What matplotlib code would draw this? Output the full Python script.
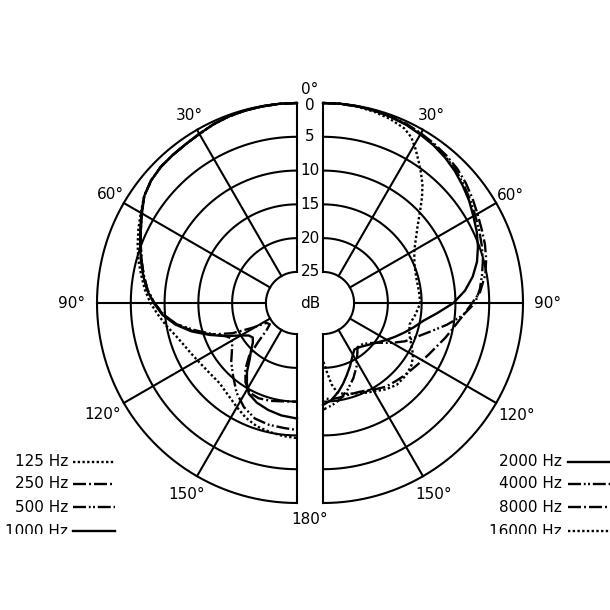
import numpy as np
import matplotlib.pyplot as plt
from matplotlib.patches import Rectangle

# polar response, angle in degrees from the front, level in dB below 0
# left half: low frequencies
ang_125 = [0, 5, 10, 15, 20, 25, 30, 35, 40, 45, 50, 55, 60, 65, 70, 75, 80, 85, 90, 95,
           100, 105, 110, 115, 120, 128, 136, 143, 150, 156, 162, 168, 174, 180]
db_125 = [0, 0, 0.05, 0.1, 0.2, 0.4, 0.7, 0.9, 1.0, 1.1, 1.4, 2.0, 2.9, 3.7, 4.5, 5.3, 6.2, 7.0, 7.9, 9.0,
          10.0, 11.0, 11.7, 12.2, 12.6, 13.0, 13.1, 12.6, 11.8, 11.0, 10.4, 10.1, 9.8, 9.6]

ang_250 = [0, 5, 10, 15, 20, 25, 30, 35, 40, 45, 50, 55, 60, 65, 70, 75, 80, 85, 90, 95,
           100, 105, 110, 115, 119, 123, 128, 132, 135, 138, 142, 147, 152, 158, 165, 172, 180]
db_250 = [0, 0, 0.05, 0.1, 0.2, 0.4, 0.7, 0.9, 1.0, 1.1, 1.4, 2.0, 3.1, 4.1, 5.0, 5.8, 6.6, 7.4, 8.5, 9.8,
          11.5, 13.6, 16.0, 19.0, 22.0, 24.2, 24.5, 23.5, 21.5, 19.0, 17.2, 15.6, 14.6, 14.4, 14.6, 14.9, 15.0]

ang_500 = [0, 5, 10, 15, 20, 25, 30, 35, 40, 45, 50, 55, 60, 65, 70, 75, 80, 85, 90, 95,
           100, 105, 110, 115, 118, 122, 126, 132, 139, 146, 153, 160, 167, 174, 180]
db_500 = [0, 0, 0.05, 0.1, 0.2, 0.4, 0.7, 0.9, 1.0, 1.1, 1.4, 2.0, 3.1, 4.1, 5.0, 5.8, 6.6, 7.4, 8.5, 9.7,
          11.5, 14.0, 16.2, 18.0, 18.5, 18.3, 17.7, 16.5, 15.2, 13.6, 12.3, 11.4, 11.1, 11.0, 10.8]

ang_1000 = [0, 5, 10, 15, 20, 25, 30, 35, 40, 45, 50, 55, 60, 65, 70, 75, 80, 85, 90, 95,
            100, 105, 110, 115, 120, 124, 128, 132, 136, 140, 144, 148, 152, 158, 165, 172, 180]
db_1000 = [0, 0, 0.05, 0.1, 0.2, 0.4, 0.7, 0.9, 1.0, 1.1, 1.4, 2.0, 3.0, 4.0, 4.9, 5.7, 6.5, 7.3, 8.4, 9.6,
           11.3, 13.4, 15.8, 18.0, 20.0, 21.0, 21.3, 20.8, 19.8, 18.7, 17.0, 15.6, 14.4, 13.7, 13.2, 12.8, 12.5]

# right half: high frequencies
ang_2000 = [0, 5, 10, 15, 20, 25, 30, 35, 40, 45, 50, 55, 60, 65, 70, 75, 80, 85, 90, 95,
            100, 105, 110, 115, 120, 127, 134, 140, 146, 151, 157, 162, 166, 170, 175, 180]
db_2000 = [0, 0, 0.05, 0.15, 0.3, 0.5, 0.8, 1.1, 1.5, 2.0, 2.6, 3.2, 3.9, 4.5, 5.2, 6.0, 7.1, 8.5, 10.3, 12.6,
           14.5, 15.7, 16.8, 17.8, 18.7, 19.8, 20.6, 21.1, 21.3, 20.6, 19.4, 18.3, 17.3, 16.3, 15.2, 14.5]

ang_4000 = [0, 5, 10, 15, 20, 25, 30, 35, 40, 45, 50, 55, 60, 65, 70, 75, 80, 85, 90, 95,
            100, 105, 110, 115, 120, 126, 132, 137, 142, 147, 152, 158, 164, 170, 175, 180]
db_4000 = [0, 0, 0.05, 0.1, 0.25, 0.45, 0.7, 1.0, 1.35, 1.8, 2.4, 3.0, 3.6, 4.1, 4.6, 5.1, 5.7, 6.3, 7.1, 8.8,
           11.0, 13.2, 14.9, 16.2, 17.8, 19.6, 20.7, 21.2, 21.3, 20.3, 19.0, 17.6, 16.3, 15.1, 14.4, 13.8]

ang_8000 = [0, 5, 10, 15, 20, 25, 30, 35, 40, 45, 50, 55, 60, 65, 70, 75, 80, 86, 91, 96,
            101, 106, 111, 116, 122, 127, 132, 137, 143, 148, 153, 158, 164, 170, 175, 180]
db_8000 = [0, 0, 0.05, 0.1, 0.2, 0.35, 0.6, 0.85, 1.15, 1.5, 2.0, 2.6, 3.2, 3.7, 4.1, 4.6, 5.2, 6.3, 7.8, 9.0,
           10.0, 10.8, 11.6, 12.2, 12.8, 13.2, 13.5, 13.8, 14.1, 14.6, 15.1, 15.4, 15.5, 15.4, 15.3, 15.5]

ang_16000 = [0, 5, 10, 15, 20, 25, 28, 31, 34, 37, 40, 43, 47, 51, 55, 60, 67, 75, 83, 90,
             97, 104, 110, 115, 120, 125, 131, 138, 144, 150, 156, 162, 167, 171, 174, 177, 180]
db_16000 = [0, 0, 0.1, 0.3, 0.6, 1.1, 1.8, 3.0, 4.3, 5.5, 6.7, 8.1, 10.0, 11.6, 12.8, 14.0, 14.9, 15.3, 15.3, 15.2,
            15.8, 16.4, 16.0, 15.2, 14.2, 13.6, 13.3, 13.3, 13.8, 14.5, 15.0, 15.5, 15.8, 16.2, 17.5, 19.5, 21.1]

low_labels = ['125 Hz', '250 Hz', '500 Hz', '1000 Hz']
high_labels = ['2000 Hz', '4000 Hz', '8000 Hz', '16000 Hz']
ring_db = [0, 5, 10, 15, 20, 25]
spoke_deg = [30, 60, 90, 120, 150]

DOTS = (0, (1, 1))
DASH_DOT = (0, (5.5, 1.3, 0.8, 1.3))
DASH_DOT_DOT = (0, (5.5, 1.2, 0.8, 1.0, 0.8, 1.2))

DB_POLE = 29.6   # level that would sit at the centre
W = 610.0
R_PX = 200.0

plt.rcParams['font.family'] = 'DejaVu Sans'

fig = plt.figure(figsize=(6.1, 6.1), dpi=100)
fig.patch.set_facecolor('white')

# overlay in pixel coordinates for the loose texts
ax_o = fig.add_axes([0, 0, 1, 1])
ax_o.set_xlim(0, W)
ax_o.set_ylim(W, 0)
ax_o.axis('off')


def rho(db):
    return DB_POLE - np.asarray(db, dtype=float)


def half_axes(cx, cy, direction):
    ax = fig.add_axes([(cx - R_PX) / W, (W - cy - R_PX) / W, 2 * R_PX / W, 2 * R_PX / W],
                      projection='polar')
    ax.set_theta_zero_location('N')
    ax.set_theta_direction(direction)
    ax.set_rlim(0, DB_POLE)
    ax.axis('off')
    ax.patch.set_alpha(0)

    th = np.radians(np.linspace(0, 180, 361))
    for db in ring_db:
        ax.plot(th, np.full_like(th, rho(db)), color='black', lw=1.5, clip_on=False)
    for a in spoke_deg + [0, 180]:
        ax.plot([np.radians(a)] * 2, [rho(25), rho(0)], color='black', lw=1.5, clip_on=False)

    # angle labels round the rim
    lab_px = {30: 216, 60: 216, 90: 225, 120: 224, 150: 221}
    for a in spoke_deg:
        ax.text(np.radians(a), lab_px[a] / R_PX * DB_POLE, f'{a}°',
                ha='center', va='center', fontsize=11)
    return ax


ax_l = half_axes(297, 303, 1)
ax_r = half_axes(323, 303, -1)

low = [(ang_125, db_125, DOTS), (ang_250, db_250, DASH_DOT),
       (ang_500, db_500, DASH_DOT_DOT), (ang_1000, db_1000, '-')]
high = [(ang_2000, db_2000, '-'), (ang_4000, db_4000, DASH_DOT_DOT),
        (ang_8000, db_8000, DASH_DOT), (ang_16000, db_16000, DOTS)]

for ang, db, ls in low:
    ax_l.plot(np.radians(ang), rho(db), color='black', lw=1.7, ls=ls, clip_on=False)
for ang, db, ls in high:
    ax_r.plot(np.radians(ang), rho(db), color='black', lw=1.7, ls=ls, clip_on=False)

# dB scale in the gap
for db in ring_db:
    y = 303 - R_PX * rho(db) / DB_POLE
    if db == 0:
        y += 3
    ax_o.text(310, y, str(db), ha='center', va='center', fontsize=11)
ax_o.text(310, 303, 'dB', ha='center', va='center', fontsize=11)
ax_o.text(310, 89, '0°', ha='center', va='center', fontsize=11)
ax_o.text(310, 519, '180°', ha='center', va='center', fontsize=11)

# legends
rows_y = [462, 484, 507, 531]
for y, lab, (_, _, ls) in zip(rows_y, low_labels, low):
    ax_o.text(68, y, lab, ha='right', va='center', fontsize=11)
    ax_o.plot([73, 115], [y, y], color='black', lw=1.7, ls=ls)
for y, lab, (_, _, ls) in zip(rows_y, high_labels, high):
    ax_o.text(562, y, lab, ha='right', va='center', fontsize=11)
    ax_o.plot([568, 612], [y, y], color='black', lw=1.7, ls=ls, clip_on=False)

# the scan is cut just below the last legend row
fig.add_artist(Rectangle((0, 0), 1, (W - 534) / W, transform=fig.transFigure,
                         facecolor='white', edgecolor='none', zorder=10))

fig.savefig('out.png', dpi=100, facecolor='white')
